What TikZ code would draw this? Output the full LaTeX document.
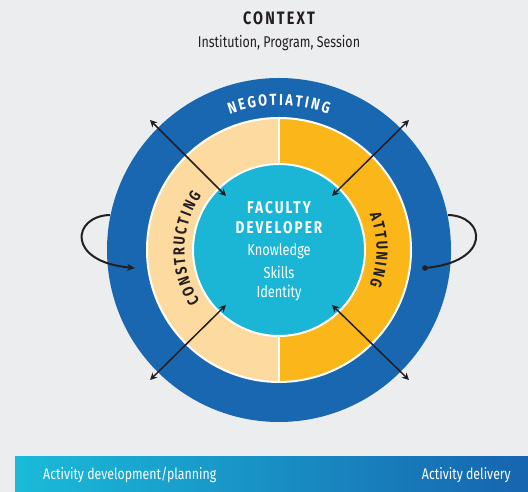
\documentclass[tikz,border=0pt]{standalone}
\usepackage{fontspec}
\setmainfont{Fira Sans}[FakeStretch=0.8]
\newfontfamily\spacedfont{Fira Sans}[FakeStretch=0.8,LetterSpace=12]
\usetikzlibrary{arrows.meta}
\definecolor{bgc}{HTML}{ECEDEF}
\definecolor{outerblue}{HTML}{1A67B1}
\definecolor{peach}{HTML}{FDDBA0}
\definecolor{amber}{HTML}{FBB61A}
\definecolor{cyanc}{HTML}{1BB6D6}
\definecolor{ink}{HTML}{231F20}
\definecolor{barL}{HTML}{1ABBD9}
\definecolor{barR}{HTML}{1764AF}
\tikzset{
  arr/.style={ink, line width=1.5pt, {Stealth[length=7pt,width=7pt]}-{Stealth[length=7pt,width=7pt]}},
  loop/.style={ink, line width=2pt},
  centertext/.style={white, inner sep=0pt, align=center},
  bartext/.style={white, inner sep=0pt, font=\fontsize{15.4}{18}\selectfont},
  arcletter/.style={inner sep=0pt},
}
\newdimen\arcpos
\newcommand\arcfont{\bfseries\fontsize{16}{18}\selectfont}
% measure: #1 name, #2 gap (pt), #3 letters
\newcommand\preparearc[3]{%
  \global\arcpos=0pt
  \foreach \ch [count=\k] in {#3}{%
    \setbox0=\hbox{\arcfont\ch}%
    \expandafter\xdef\csname arcs#1\k\endcsname{\the\dimexpr\arcpos+\wd0/2\relax}%
    \global\advance\arcpos by \wd0\relax
    \global\advance\arcpos by #2pt\relax
  }%
  \global\advance\arcpos by -#2pt\relax
  \expandafter\xdef\csname arct#1\endcsname{\the\arcpos}%
}
\AtBeginDocument{%
  \preparearc{neg}{2.6}{N,E,G,O,T,I,A,T,I,N,G}%
  \preparearc{con}{2.6}{C,O,N,S,T,R,U,C,T,I,N,G}%
  \preparearc{att}{2.6}{A,T,T,U,N,I,N,G}%
}
% place: #1 centre angle, #2 radius, #3 colour, #4 letters, #5 name
\newcommand\arcletters[5]{%
  \foreach \ch [count=\k] in {#4}{%
    \edef\arcS{\csname arcs#5\k\endcsname}%
    \edef\arcT{\csname arct#5\endcsname}%
    \pgfmathsetmacro\ang{#1+(0.5*\arcT-\arcS)/#2*180/pi}%
    \node[arcletter, text=#3, rotate=\ang-90] (#5\k) at (\ang:#2) {\arcfont\ch};%
  }%
}
\begin{document}
\begin{tikzpicture}[x=1pt,y=1pt]
\useasboundingbox (0,0) rectangle (528,492);
\fill[bgc] (0,0) rectangle (528,492);
% title
\node[ink, inner sep=0pt] (ctx) at (279,474) {\spacedfont\bfseries\fontsize{18}{20}\selectfont CONTEXT};
\node[ink, inner sep=0pt] (sub) at (279,449) {\fontsize{15.6}{18}\selectfont Institution, Program, Session};
% circles
\coordinate (C) at (279,242);
\fill[outerblue] (C) circle (172);
\fill[peach] (279,374) arc[start angle=90,end angle=270,radius=132] -- cycle;
\fill[amber] (279,374) arc[start angle=90,end angle=-90,radius=132] -- cycle;
\draw[white, line width=2pt] (C) circle (132);
\draw[white, line width=2pt] (279,110) -- (279,374);
\node[circle, fill=cyanc, draw=white, line width=2pt, minimum size=172pt, inner sep=0pt] (dev) at (C) {};
% center texts
\node[centertext] (fac) at (279,284) {\spacedfont\bfseries\fontsize{17}{20}\selectfont FACULTY};
\node[centertext] (devl) at (279,264) {\spacedfont\bfseries\fontsize{17}{20}\selectfont DEVELOPER};
\node[centertext] (kn) at (279,241) {\fontsize{16}{19}\selectfont Knowledge};
\node[centertext] (sk) at (279,220) {\fontsize{16}{19}\selectfont Skills};
\node[centertext] (id) at (279,199) {\fontsize{16}{19}\selectfont Identity};
% curved texts
\begin{scope}[shift={(279,242)}]
\arcletters{90}{150}{white}{N,E,G,O,T,I,A,T,I,N,G}{neg}
\arcletters{179}{100}{ink}{C,O,N,S,T,R,U,C,T,I,N,G}{con}
\arcletters{0}{103}{ink}{A,T,T,U,N,I,N,G}{att}
\end{scope}
% diagonal arrows
\coordinate (tlo) at (150,372);
\coordinate (tli) at (226,296);
\coordinate (tro) at (409,372);
\coordinate (tri) at (332,296);
\coordinate (blo) at (150,112);
\coordinate (bli) at (226,187);
\coordinate (bro) at (409,112);
\coordinate (bri) at (332,187);
\draw[arr] (tlo) -- (tli);
\draw[arr] (tro) -- (tri);
\draw[arr] (blo) -- (bli);
\draw[arr] (bro) -- (bri);
% side loops
\coordinate (ls) at (110,277);
\coordinate (le) at (135,224);
\coordinate (rs) at (448,277);
\coordinate (re) at (425,224);
\draw[loop, -{Stealth[length=8pt,width=7pt]}] (ls) .. controls (72,276) and (66,230) .. (le);
\draw[loop] (rs) .. controls (486,276) and (492,230) .. (re);
\fill[ink] (re) circle (2.8);
% bottom bar
\shade[left color=barL, right color=barR] (15,0) rectangle (528,35);
\node[bartext, anchor=west] (dp) at (43,17) {Activity development/planning};
\node[bartext, anchor=east] (dl) at (511,17) {Activity delivery};
\end{tikzpicture}
\end{document}
